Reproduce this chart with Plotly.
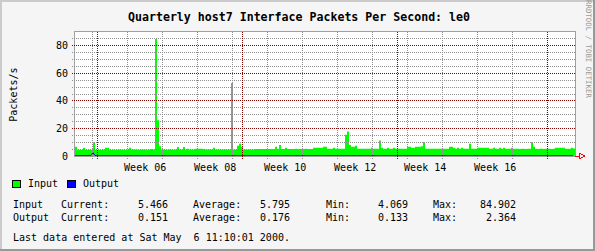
import pandas as pd
import plotly.graph_objects as go

# ---------------- data ----------------
start_time = "2000-01-27 11:10:00"
end_time = "2000-05-06 11:10:00"
step_hours = 9.6  # one sample every 0.4 day

input_pps = [
    6.7, 4.6, 4.6, 4.6, 6.0, 4.6, 4.6, 4.6, 4.6, 10.0,
    4.6, 4.6, 4.6, 4.6, 4.8, 6.0, 6.0, 4.8, 4.6, 4.6,
    4.6, 4.6, 4.8, 4.6, 4.6, 4.6, 4.8, 6.0, 4.8, 4.8,
    4.8, 4.6, 4.6, 4.8, 4.8, 4.6, 4.6, 4.8, 5.0, 4.8,
    84.9, 26.0, 7.0, 4.8, 4.8, 4.6, 4.6, 4.8, 4.8, 4.6,
    4.8, 6.5, 4.8, 4.8, 6.5, 4.8, 5.3, 4.8, 4.8, 4.8,
    5.3, 5.3, 5.3, 5.3, 5.0, 4.8, 4.8, 4.8, 4.8, 6.0,
    4.8, 4.8, 4.8, 4.8, 4.8, 4.8, 4.8, 4.8, 52.9, 4.8,
    4.8, 7.4, 8.9, 6.5, 4.8, 4.8, 4.8, 4.8, 4.8, 4.8,
    5.0, 5.0, 5.0, 5.0, 5.0, 5.0, 5.0, 5.0, 5.0, 5.0,
    6.7, 5.0, 8.0, 5.0, 5.0, 6.0, 5.0, 5.0, 5.0, 5.0,
    5.3, 5.0, 5.0, 5.0, 5.0, 5.3, 5.0, 5.0, 5.0, 6.0,
    6.0, 6.0, 6.0, 6.0, 6.7, 6.7, 5.3, 5.3, 5.3, 6.0,
    5.3, 5.3, 5.3, 5.3, 5.3, 15.4, 17.8, 8.0, 6.7, 6.7,
    7.4, 5.3, 5.3, 5.3, 5.3, 5.3, 5.3, 5.3, 6.0, 5.3,
    5.3, 5.3, 11.3, 6.0, 5.3, 5.3, 6.0, 5.3, 5.3, 6.0,
    5.3, 5.3, 5.3, 5.3, 5.3, 5.3, 6.7, 6.7, 6.0, 6.0,
    6.7, 6.7, 6.7, 7.0, 10.1, 5.3, 5.3, 5.3, 5.3, 5.3,
    5.3, 5.3, 5.3, 5.3, 5.3, 5.3, 5.3, 6.7, 6.7, 6.0,
    5.3, 6.0, 5.3, 6.0, 5.3, 5.3, 5.3, 8.9, 5.3, 5.3,
    5.3, 6.0, 6.0, 6.0, 6.0, 6.0, 6.0, 5.3, 5.3, 6.0,
    5.3, 5.3, 6.0, 5.3, 6.0, 5.3, 5.3, 5.3, 6.0, 5.3,
    5.3, 5.3, 5.0, 5.3, 5.3, 5.0, 5.3, 5.3, 10.0, 6.7,
    5.3, 5.0, 5.3, 5.3, 5.0, 5.3, 5.3, 5.3, 5.0, 5.3,
    6.0, 6.0, 6.0, 6.0, 6.0, 5.3, 5.3, 5.3, 6.0, 5.47,
]

output_pps = [
    0.18, 0.17, 0.17, 0.18, 0.19, 0.17, 0.16, 0.18, 0.40, 2.364,
    0.30, 0.18, 0.17, 0.17, 0.18, 0.19, 0.18, 0.17, 0.16, 0.17,
    0.17, 0.18, 0.18, 0.17, 0.16, 0.17, 0.18, 0.19, 0.18, 0.17,
    0.17, 0.16, 0.17, 0.18, 0.18, 0.17, 0.17, 0.18, 0.18, 0.17,
    0.20, 0.19, 0.18, 0.17, 0.17, 0.16, 0.17, 0.18, 0.18, 0.17,
    0.17, 0.18, 0.17, 0.17, 0.18, 0.17, 0.17, 0.16, 0.17, 0.17,
    0.18, 0.18, 0.17, 0.17, 0.16, 0.17, 0.17, 0.18, 0.17, 0.17,
    0.17, 0.16, 0.17, 0.17, 0.18, 0.17, 0.17, 0.17, 0.19, 0.17,
    0.17, 0.18, 0.18, 0.17, 0.17, 0.16, 0.17, 0.17, 0.17, 0.18,
    0.17, 0.17, 0.16, 0.17, 0.18, 0.17, 0.17, 0.16, 0.17, 0.17,
    0.18, 0.17, 0.18, 0.17, 0.16, 0.17, 0.17, 0.18, 0.17, 0.17,
    0.17, 0.16, 0.17, 0.18, 0.17, 0.17, 0.16, 0.17, 0.17, 0.18,
    0.18, 0.17, 0.17, 0.18, 0.18, 0.17, 0.17, 0.16, 0.17, 0.17,
    0.17, 0.17, 0.16, 0.17, 0.18, 0.19, 0.20, 0.18, 0.17, 0.17,
    0.18, 0.17, 0.17, 0.16, 0.17, 0.17, 0.18, 0.17, 0.17, 0.17,
    0.17, 0.16, 0.18, 0.17, 0.17, 0.16, 0.17, 0.17, 0.18, 0.17,
    0.17, 0.17, 0.16, 0.17, 0.17, 0.18, 0.17, 0.17, 0.16, 0.17,
    0.17, 0.18, 0.17, 0.17, 0.18, 0.17, 0.16, 0.17, 0.17, 0.17,
    0.17, 0.16, 0.17, 0.17, 0.18, 0.17, 0.17, 0.17, 0.17, 0.16,
    0.17, 0.17, 0.16, 0.17, 0.17, 0.17, 0.18, 0.18, 0.17, 0.17,
    0.17, 0.17, 0.17, 0.16, 0.17, 0.17, 0.18, 0.17, 0.17, 0.16,
    0.17, 0.17, 0.16, 0.16, 0.17, 0.17, 0.17, 0.18, 0.17, 0.17,
    0.16, 0.17, 0.17, 0.16, 0.17, 0.17, 0.16, 0.17, 0.18, 0.17,
    0.16, 0.16, 0.17, 0.17, 0.16, 0.15, 0.16, 0.17, 0.16, 0.16,
    0.16, 0.15, 0.16, 0.16, 0.15, 0.15, 0.16, 0.15, 0.15, 0.151,
]

week_starts = ["2000-01-31", "2000-02-07", "2000-02-14", "2000-02-21", "2000-02-28",
               "2000-03-06", "2000-03-13", "2000-03-20", "2000-03-27", "2000-04-03",
               "2000-04-10", "2000-04-17", "2000-04-24"]
month_starts = ["2000-02-01", "2000-03-01", "2000-04-01", "2000-05-01"]
label_weeks = ["2000-02-07", "2000-02-21", "2000-03-06", "2000-03-20", "2000-04-03", "2000-04-17"]
week_labels = ["Week 06", "Week 08", "Week 10", "Week 12", "Week 14", "Week 16"]

y_major = [0, 20, 40, 60, 80]
y_minor = [5, 10, 15, 25, 30, 35, 45, 50, 55, 65, 70, 75, 85]
y_max = 90

title_text = "Quarterly host7 Interface Packets Per Second: le0"
y_title = "Packets/s"
series_names = ["Input", "Output"]
series_colors = ["#00FF00", "#0000FF"]
stats = {
    "Input": ["5.466", "5.795", "4.069", "84.902"],
    "Output": ["0.151", "0.176", "0.133", "2.364"],
}
stat_names = ["Current:", "Average:", "Min:", "Max:"]
last_update = "Last data entered at Sat May  6 11:10:01 2000."
credit = "RRDTOOL / TOBI OETIKER"

# ---------------- layout geometry ----------------
W, H = 595, 251
L, R, T, B = 75, 20, 32, 95
PW, PH = W - L - R, H - T - B
BOTTOM = H - B


def px(x):
    return (x - L) / PW


def py(y):
    return (BOTTOM - y) / PH


FONT = "DejaVu Sans Mono"
GRID = "#8F8F8F"
MGRID = "#800000"
DASH = "1px,1px"

t0 = pd.Timestamp(start_time)
t1 = pd.Timestamp(end_time)
step = pd.Timedelta(hours=step_hours)
times = [t0 + i * step for i in range(len(input_pps))]
times_area = times + [t1]
input_area = input_pps + [input_pps[-1]]

fig = go.Figure()
fig.add_trace(go.Scatter(
    x=times_area, y=input_area, mode="lines", line=dict(shape="hv", width=0, color=series_colors[0]),
    fill="tozeroy", fillcolor=series_colors[0], showlegend=False, hoverinfo="skip"))
fig.add_trace(go.Scatter(
    x=times, y=output_pps, mode="lines", line=dict(width=1, color=series_colors[1]),
    showlegend=False, hoverinfo="skip"))

shapes = []
# week lines
for d in week_starts:
    shapes.append(dict(type="line", xref="x", yref="paper", x0=d, x1=d, y0=py(158.5), y1=1,
                       line=dict(color=GRID, width=1, dash=DASH), layer="above"))
# horizontal grid (drawn over the data, as rrdtool does)
for v in y_minor:
    shapes.append(dict(type="line", xref="paper", yref="y", x0=px(72), x1=1, y0=v, y1=v,
                       line=dict(color=GRID, width=1, dash=DASH), layer="above"))
for v in y_major[1:]:
    shapes.append(dict(type="line", xref="paper", yref="y", x0=px(72), x1=1, y0=v, y1=v,
                       line=dict(color=MGRID, width=1, dash=DASH), layer="above"))
# month lines
for d in month_starts:
    shapes.append(dict(type="line", xref="x", yref="paper", x0=d, x1=d, y0=py(158.5), y1=1,
                       line=dict(color=MGRID, width=1, dash=DASH), layer="above"))
# x axis arrow
shapes.append(dict(type="line", xref="paper", yref="paper", x0=px(575), x1=px(579), y0=py(156), y1=py(156),
                   line=dict(color="#FF0000", width=1)))
shapes.append(dict(type="path", xref="paper", yref="paper",
                   path=f"M {px(579)},{py(153)} L {px(585)},{py(156)} L {px(579)},{py(159)} Z",
                   line=dict(color="#FF0000", width=1), fillcolor="rgba(0,0,0,0)"))
# legend boxes
for xb, col in [(12.5, series_colors[0]), (67.5, series_colors[1])]:
    shapes.append(dict(type="rect", xref="paper", yref="paper", x0=px(xb), x1=px(xb + 7.5),
                       y0=py(187.5), y1=py(180), fillcolor=col, line=dict(color="#000000", width=1)))
# outer frame (3d shading)
shapes.append(dict(type="rect", xref="paper", yref="paper", x0=px(0), x1=px(W), y0=py(H), y1=py(H - 2),
                   fillcolor="#999999", line=dict(width=0)))
shapes.append(dict(type="rect", xref="paper", yref="paper", x0=px(W - 2), x1=px(W), y0=py(H), y1=py(0),
                   fillcolor="#999999", line=dict(width=0)))
shapes.append(dict(type="rect", xref="paper", yref="paper", x0=px(0), x1=px(W - 2), y0=py(2), y1=py(0),
                   fillcolor="#CBCBCB", line=dict(width=0)))
shapes.append(dict(type="rect", xref="paper", yref="paper", x0=px(0), x1=px(2), y0=py(H - 2), y1=py(0),
                   fillcolor="#CBCBCB", line=dict(width=0)))

ann = []


def text(x, y, s, size=10, anchor="left", color="#000000", bold=False, angle=0):
    ann.append(dict(xref="paper", yref="paper", x=px(x), y=py(y), text=f"<b>{s}</b>" if bold else s,
                    showarrow=False, xanchor=anchor, yanchor="middle", textangle=angle,
                    font=dict(family=FONT, size=size, color=color), borderpad=0))


text(299, 16.5, title_text, size=11.6, anchor="center", bold=True)
text(12.7, 95, y_title, size=10, anchor="center", angle=-90)
text(588.5, 48.5, credit, size=7.4, anchor="center", color="#9A9A9A", angle=90)
text(26.5, 183.5, series_names[0])
text(81.5, 183.5, series_names[1])
for row, (name, yy) in enumerate([("Input", 204.5), ("Output", 217.3)]):
    text(12, yy, name)
    vals = stats[name]
    for lbl, lx, vx, v in zip(stat_names, [60, 192, 325, 432], [169, 291, 409, 517], vals):
        text(lx, yy, lbl)
        text(vx, yy, v, anchor="right")
text(12, 237.8, last_update)

fig.update_layout(
    width=W, height=H, margin=dict(l=L, r=R, t=T, b=B, pad=0),
    paper_bgcolor="#F5F5F5", plot_bgcolor="#FFFFFF",
    shapes=shapes, annotations=ann, showlegend=False,
    xaxis=dict(type="date", range=[t0, t1], showgrid=False, zeroline=False,
               tickmode="array", tickvals=[pd.Timestamp(d) + pd.Timedelta(hours=84) for d in label_weeks],
               ticktext=week_labels, ticks="outside", ticklen=2, tickcolor="rgba(0,0,0,0)",
               tickfont=dict(family=FONT, size=10, color="#000000"),
               showline=True, linecolor="#A0A0A0", linewidth=1, mirror=True),
    yaxis=dict(range=[0, y_max], showgrid=False, zeroline=False, tickmode="array",
               tickvals=y_major, ticks="outside", ticklen=4, tickcolor="rgba(0,0,0,0)",
               tickfont=dict(family=FONT, size=10, color="#000000"),
               showline=True, linecolor="#A0A0A0", linewidth=1, mirror=True),
)

crisp = ("document.querySelectorAll('.shapelayer path').forEach(function(p)"
         "{p.style.shapeRendering='crispEdges';});")
fig.write_html("out.html", post_script=crisp)
